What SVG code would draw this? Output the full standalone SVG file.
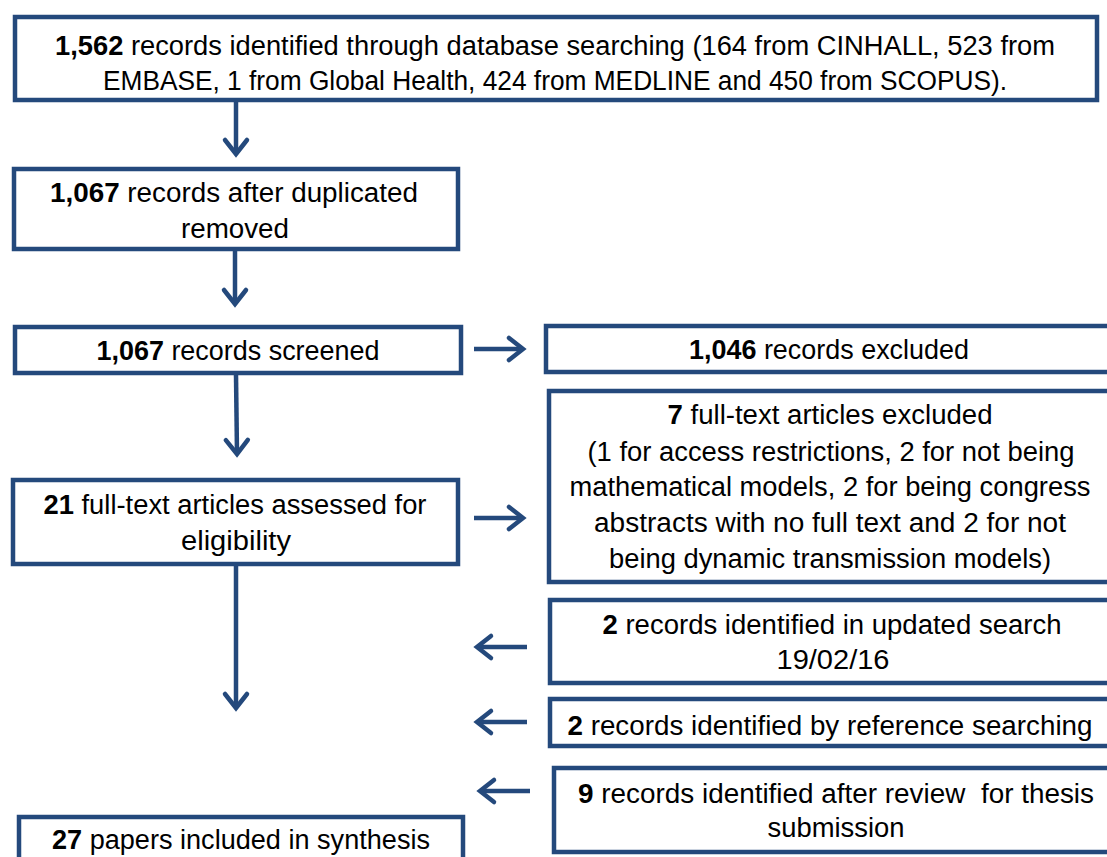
<svg xmlns="http://www.w3.org/2000/svg" width="1107" height="857" viewBox="0 0 1107 857">
<style>
.box{fill:#fff;stroke:#24497C;stroke-width:4.5}
.t{font-family:"Liberation Sans",Arial,sans-serif;font-size:27px;fill:#000;text-anchor:middle}
.b{font-weight:bold}
.c{stroke:#24497C;stroke-width:4.5;fill:none;marker-end:url(#ah)}
</style>
<defs>
<marker id="ah" markerUnits="userSpaceOnUse" markerWidth="40" markerHeight="40" viewBox="-20 -20 40 40" refX="0" refY="0" orient="auto" overflow="visible">
<path d="M-14,-11 L0,0 L-14,11" fill="none" stroke="#24497C" stroke-width="4.5" stroke-linecap="round" stroke-linejoin="miter"/>
</marker>
</defs>
<rect width="1107" height="857" fill="#fff"/>
<g id="connectors">
<line class="c" x1="236" y1="102" x2="236" y2="154"/>
<line class="c" x1="235" y1="251" x2="235" y2="304"/>
<line class="c" x1="236" y1="375" x2="237" y2="454"/>
<line class="c" x1="236" y1="565" x2="236" y2="708"/>
<line class="c" x1="474" y1="349" x2="523" y2="349"/>
<line class="c" x1="474" y1="518" x2="523" y2="518"/>
<line class="c" x1="527" y1="647" x2="477" y2="647"/>
<line class="c" x1="527" y1="722" x2="477" y2="722"/>
<line class="c" x1="530" y1="791" x2="480" y2="791"/>
</g>
<g id="n1">
<rect class="box" x="15" y="17" width="1082" height="83"/>
<text class="t" x="555" y="55" textLength="1000" lengthAdjust="spacingAndGlyphs"><tspan class="b">1,562</tspan> records identified through database searching (164 from CINHALL, 523 from</text>
<text class="t" x="555" y="90" textLength="904" lengthAdjust="spacingAndGlyphs">EMBASE, 1 from Global Health, 424 from MEDLINE and 450 from SCOPUS).</text>
</g>
<g id="n2">
<rect class="box" x="14" y="169" width="444" height="80"/>
<text class="t" x="234" y="202" textLength="368" lengthAdjust="spacingAndGlyphs"><tspan class="b">1,067</tspan> records after duplicated</text>
<text class="t" x="235" y="238" textLength="108" lengthAdjust="spacingAndGlyphs">removed</text>
</g>
<g id="n3">
<rect class="box" x="15" y="327" width="446" height="46"/>
<text class="t" x="238" y="360" textLength="283" lengthAdjust="spacingAndGlyphs"><tspan class="b">1,067</tspan> records screened</text>
</g>
<g id="n4">
<rect class="box" x="546" y="326" width="580" height="46"/>
<text class="t" x="829" y="359" textLength="280" lengthAdjust="spacingAndGlyphs"><tspan class="b">1,046</tspan> records excluded</text>
</g>
<g id="n5">
<rect class="box" x="13" y="480" width="445" height="84"/>
<text class="t" x="235" y="514" textLength="383" lengthAdjust="spacingAndGlyphs"><tspan class="b">21</tspan> full-text articles assessed for</text>
<text class="t" x="236" y="550" textLength="110" lengthAdjust="spacingAndGlyphs">eligibility</text>
</g>
<g id="n6">
<rect class="box" x="549" y="391" width="580" height="191"/>
<text class="t" x="830" y="424" textLength="325" lengthAdjust="spacingAndGlyphs"><tspan class="b">7</tspan> full-text articles excluded</text>
<text class="t" x="831" y="461" textLength="487" lengthAdjust="spacingAndGlyphs">(1 for access restrictions, 2 for not being</text>
<text class="t" x="830" y="496" textLength="521" lengthAdjust="spacingAndGlyphs">mathematical models, 2 for being congress</text>
<text class="t" x="830" y="532" textLength="472" lengthAdjust="spacingAndGlyphs">abstracts with no full text and 2 for not</text>
<text class="t" x="830" y="568" textLength="442" lengthAdjust="spacingAndGlyphs">being dynamic transmission models)</text>
</g>
<g id="n7">
<rect class="box" x="550" y="600" width="580" height="83"/>
<text class="t" x="832" y="634" textLength="459" lengthAdjust="spacingAndGlyphs"><tspan class="b">2</tspan> records identified in updated search</text>
<text class="t" x="833" y="669" textLength="113" lengthAdjust="spacingAndGlyphs">19/02/16</text>
</g>
<g id="n8">
<rect class="box" x="550" y="699" width="580" height="47"/>
<text class="t" x="830" y="735" textLength="525" lengthAdjust="spacingAndGlyphs"><tspan class="b">2</tspan> records identified by reference searching</text>
</g>
<g id="n9">
<rect class="box" x="554" y="768" width="580" height="84"/>
<text class="t" x="836" y="803" textLength="516" lengthAdjust="spacingAndGlyphs"><tspan class="b">9</tspan> records identified after review&#160; for thesis</text>
<text class="t" x="836" y="837" textLength="137" lengthAdjust="spacingAndGlyphs">submission</text>
</g>
<g id="n10">
<rect class="box" x="19" y="817" width="444" height="60"/>
<text class="t" x="241" y="849" textLength="378" lengthAdjust="spacingAndGlyphs"><tspan class="b">27</tspan> papers included in synthesis</text>
</g>
</svg>
